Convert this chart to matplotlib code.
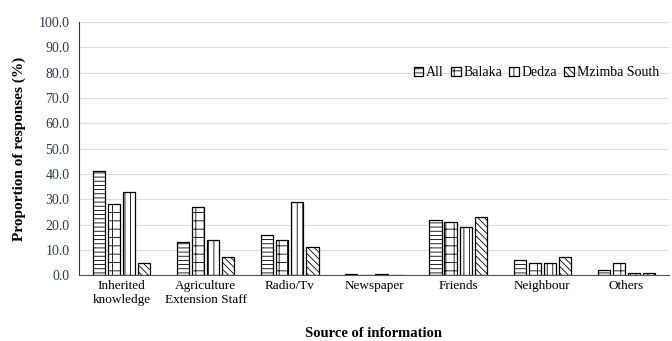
import numpy as np
import matplotlib
matplotlib.use("Agg")
import matplotlib.pyplot as plt

plt.rcParams['font.family'] = ['Liberation Serif', 'DejaVu Serif']
plt.rcParams['hatch.linewidth'] = 0.6

categories = ["Inherited\nknowledge", "Agriculture\nExtension Staff", "Radio/Tv",
              "Newspaper", "Friends", "Neighbour", "Others"]
series_names = ["All", "Balaka", "Dedza", "Mzimba South"]
all_vals = [41.0, 13.0, 16.0, 0.3, 22.0, 6.0, 2.0]
balaka_vals = [28.0, 27.0, 14.0, 0.0, 21.0, 5.0, 5.0]
dedza_vals = [33.0, 14.0, 29.0, 0.5, 19.0, 5.0, 1.0]
mzimba_vals = [5.0, 7.0, 11.0, 0.0, 23.0, 7.0, 1.0]
hatches = ["----", "++", "|||", "\\\\\\\\\\"]

fig = plt.figure(figsize=(6.72, 3.41), dpi=100)
ax = fig.add_axes([0.118, 0.193, 0.877, 0.742])

x = np.arange(len(categories))
width = 0.145
step = 0.18
for i, (vals, h, name) in enumerate(zip([all_vals, balaka_vals, dedza_vals, mzimba_vals], hatches, series_names)):
    ax.bar(x + (i - 1.5) * step, vals, width, facecolor="white", edgecolor="black",
           linewidth=0.9, hatch=h, label=name, zorder=2)

ax.set_ylim(0, 100)
ax.set_xlim(-0.5, len(categories) - 0.5)
ax.set_yticks(np.arange(0, 101, 10))
ax.set_yticklabels(["%.1f" % v for v in np.arange(0, 101, 10)], fontsize=10, color="#333a4d")
ax.set_xticks(x)
ax.set_xticklabels(categories, fontsize=9.5)
ax.tick_params(axis="both", length=0)
ax.tick_params(axis="y", pad=7)
ax.grid(axis="y", color="#dddddd", linewidth=0.8, zorder=0)
for s in ["top", "right"]:
    ax.spines[s].set_visible(False)
ax.spines["left"].set_color("#333333")
ax.spines["bottom"].set_color("#555555")

ax.set_ylabel("Proportion of responses (%)", fontsize=11, fontweight="bold", labelpad=9)
ax.set_xlabel("Source of information", fontsize=10.5, fontweight="bold", labelpad=15)

ax.legend(loc="upper right", bbox_to_anchor=(1.005, 0.875), ncol=4, frameon=False, fontsize=10,
          handlelength=0.7, handleheight=0.7, handletextpad=0.2, columnspacing=0.5)

fig.savefig("out.png", dpi=100)
